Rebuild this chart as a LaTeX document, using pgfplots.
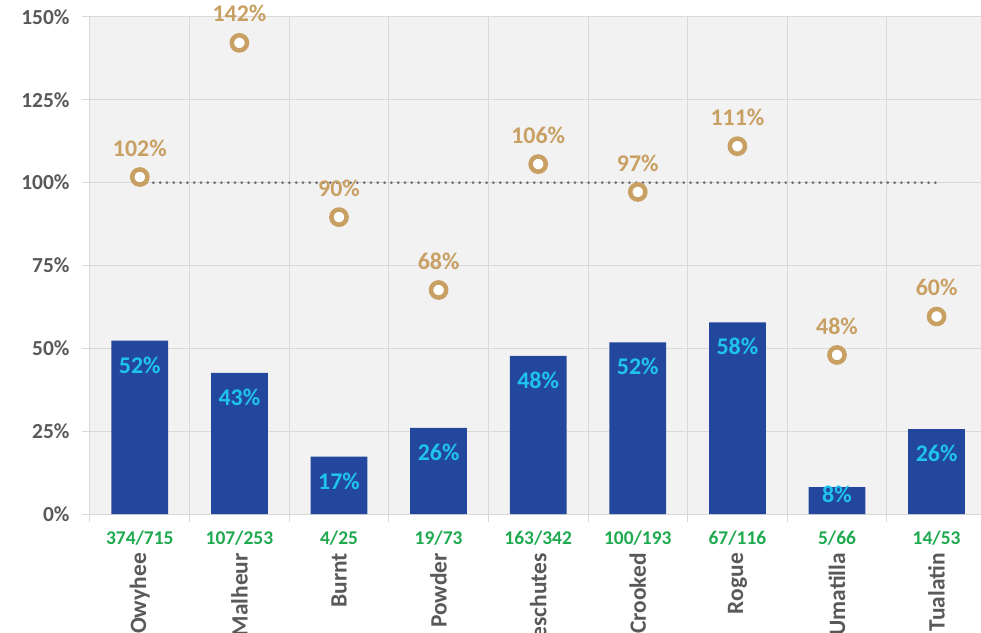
\documentclass[border=0pt]{standalone}
\usepackage{pgfplots}
\pgfplotsset{compat=1.18}
\usepackage{pgfplotstable}
\usepackage{fontspec}
\setmainfont{Carlito}
\definecolor{barblue}{HTML}{24479E}
\definecolor{labcyan}{HTML}{1FC3F0}
\definecolor{tan}{HTML}{C9A063}
\definecolor{fracgreen}{HTML}{1DAA4F}
\definecolor{txtgray}{HTML}{595959}
\definecolor{bgc}{HTML}{F2F2F2}
\definecolor{gridc}{HTML}{D9D9D9}
\definecolor{dotc}{HTML}{6F6F6F}
\newcommand\ff{\fontsize{21.5}{24}\selectfont\bfseries}
\newcommand\fl{\fontsize{24}{26}\selectfont\bfseries}
\newcommand\fg{\fontsize{19.5}{22}\selectfont\bfseries}
\newcommand\fn{\fontsize{23.5}{26}\selectfont\bfseries}
\pgfplotstableread{
x bar ly lab circ clab
0 52.3 45.0 52 101.7 102
1 42.6 35.3 43 142.2 142
2 17.3 10.0 17 89.6 90
3 26.0 18.7 26 67.6 68
4 47.7 40.4 48 105.6 106
5 51.8 44.5 52 97.2 97
6 57.8 50.5 58 111.0 111
7 8.1 6.0 8 48.0 48
8 25.6 18.3 26 59.6 60
}\datatable
\begin{document}
\begin{tikzpicture}
\begin{axis}[
  scale only axis,
  width=896.4bp, height=497bp,
  xmin=-0.5, xmax=8.5, ymin=0, ymax=150,
  clip=false,
  /pgf/number format/assume math mode=true,
  axis background/.style={fill=bgc},
  axis x line*=bottom, axis y line*=left,
  axis line style={draw=gridc, line width=1bp},
  tick align=outside,
  major tick length=8bp, minor tick length=8bp,
  tick style={draw=gridc, line width=1bp},
  ytick={0,25,...,150},
  yticklabel={\pgfmathprintnumber{\tick}\%},
  yticklabel style={font=\ff, color=txtgray, xshift=-9bp},
  ymajorgrids, grid style={draw=gridc, line width=1bp},
  xtick={0,...,8},
  xmajorticks=false,
  xticklabels={},
  minor xtick={-0.5,0.5,...,8.5},
  xminorgrids, minor grid style={draw=gridc, line width=1bp},
  /pgf/number format/fixed, /pgf/number format/precision=0,
]
\coordinate (O) at (axis cs:-0.5,0);
\addplot[ybar, bar width=0.57, fill=barblue, draw=none] table[x=x, y=bar] {\datatable};
\addplot[draw=none, mark=none, point meta=explicit,
  nodes near coords={\pgfmathprintnumber{\pgfplotspointmeta}\%},
  every node near coord/.append style={anchor=center, font=\fl, color=labcyan}]
  table[x=x, y=ly, meta=lab] {\datatable};
\addplot[dotc, line width=3bp, line cap=round, dash pattern=on 0bp off 6.8bp] coordinates {(0,100) (8,100)};
\addplot[only marks, mark=*, mark size=7.6bp,
  mark options={fill=white, draw=tan, line width=4.5bp, solid},
  point meta=explicit,
  nodes near coords={\pgfmathprintnumber{\pgfplotspointmeta}\%},
  every node near coord/.append style={anchor=center, yshift=29bp, font=\fl, color=tan}]
  table[x=x, y=circ, meta=clab] {\datatable};
\node[font=\fg, color=fracgreen] at ([yshift=-24bp]axis cs:0,0) {374/715};
\node[font=\fg, color=fracgreen] at ([yshift=-24bp]axis cs:1,0) {107/253};
\node[font=\fg, color=fracgreen] at ([yshift=-24bp]axis cs:2,0) {4/25};
\node[font=\fg, color=fracgreen] at ([yshift=-24bp]axis cs:3,0) {19/73};
\node[font=\fg, color=fracgreen] at ([yshift=-24bp]axis cs:4,0) {163/342};
\node[font=\fg, color=fracgreen] at ([yshift=-24bp]axis cs:5,0) {100/193};
\node[font=\fg, color=fracgreen] at ([yshift=-24bp]axis cs:6,0) {67/116};
\node[font=\fg, color=fracgreen] at ([yshift=-24bp]axis cs:7,0) {5/66};
\node[font=\fg, color=fracgreen] at ([yshift=-24bp]axis cs:8,0) {14/53};
\node[font=\fn, color=txtgray, rotate=90, anchor=east, inner sep=0pt] at ([yshift=-39bp]axis cs:0,0) {Owyhee};
\node[font=\fn, color=txtgray, rotate=90, anchor=east, inner sep=0pt] at ([yshift=-39bp]axis cs:1,0) {Malheur};
\node[font=\fn, color=txtgray, rotate=90, anchor=east, inner sep=0pt] at ([yshift=-39bp]axis cs:2,0) {Burnt};
\node[font=\fn, color=txtgray, rotate=90, anchor=east, inner sep=0pt] at ([yshift=-39bp]axis cs:3,0) {Powder};
\node[font=\fn, color=txtgray, rotate=90, anchor=east, inner sep=0pt] at ([yshift=-39bp]axis cs:4,0) {Deschutes};
\node[font=\fn, color=txtgray, rotate=90, anchor=east, inner sep=0pt] at ([yshift=-39bp]axis cs:5,0) {Crooked};
\node[font=\fn, color=txtgray, rotate=90, anchor=east, inner sep=0pt] at ([yshift=-39bp]axis cs:6,0) {Rogue};
\node[font=\fn, color=txtgray, rotate=90, anchor=east, inner sep=0pt] at ([yshift=-39bp]axis cs:7,0) {Umatilla};
\node[font=\fn, color=txtgray, rotate=90, anchor=east, inner sep=0pt] at ([yshift=-39bp]axis cs:8,0) {Tualatin};
\end{axis}
\pgfresetboundingbox
\path[use as bounding box] (O) ++(-90bp,-119bp) rectangle ++(981bp,633bp);
\end{tikzpicture}
\end{document}
